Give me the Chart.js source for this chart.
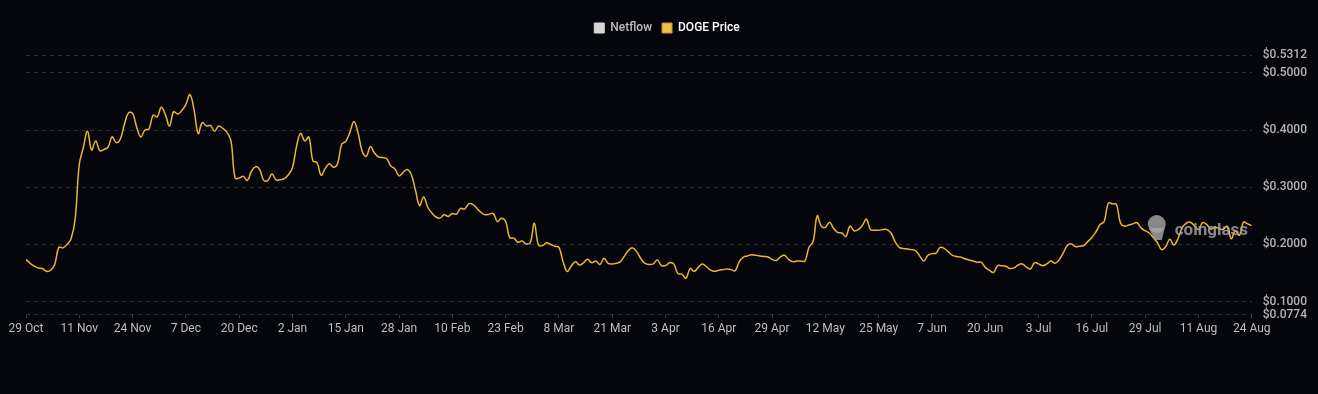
<!DOCTYPE html>
<html>
<head>
<meta charset="utf-8">
<script src="https://cdn.jsdelivr.net/npm/chart.js@4.4.1/dist/chart.umd.min.js"></script>
<style>
html,body{margin:0;padding:0;background:#05060b;}
#wrap{width:1318px;height:394px;position:relative;}
</style>
</head>
<body>
<div id="wrap"><canvas id="c" width="1318" height="394"></canvas></div>
<script>
// X tick labels (every 13th day, 29 Oct → 24 Aug)
const tickLabels = ['29 Oct','11 Nov','24 Nov','7 Dec','20 Dec','2 Jan','15 Jan','28 Jan','10 Feb','23 Feb','8 Mar','21 Mar','3 Apr','16 Apr','29 Apr','12 May','25 May','7 Jun','20 Jun','3 Jul','16 Jul','29 Jul','11 Aug','24 Aug'];
const tickStep = 13;
// Y tick values
const yTicks = [0.0774, 0.1, 0.2, 0.3, 0.4, 0.5, 0.5312];
// Netflow series (no visible values in the reference)
const netflow = [];
// DOGE daily price, 300 days
const dogePrice = [
0.174,0.167,0.162,0.159,0.158,0.153,0.155,0.165,0.195,0.194,
0.200,0.210,0.245,0.340,0.370,0.398,0.365,0.381,0.364,0.366,
0.370,0.388,0.378,0.384,0.410,0.430,0.429,0.405,0.388,0.400,
0.402,0.426,0.423,0.440,0.427,0.407,0.432,0.428,0.434,0.445,
0.462,0.435,0.394,0.413,0.407,0.408,0.398,0.407,0.403,0.396,
0.381,0.316,0.316,0.319,0.312,0.328,0.336,0.331,0.312,0.312,
0.323,0.313,0.313,0.315,0.322,0.334,0.372,0.394,0.381,0.388,
0.346,0.343,0.321,0.333,0.341,0.335,0.341,0.375,0.380,0.396,
0.415,0.395,0.363,0.354,0.371,0.360,0.353,0.352,0.350,0.337,
0.332,0.320,0.326,0.331,0.322,0.295,0.268,0.283,0.265,0.255,
0.248,0.246,0.252,0.249,0.254,0.253,0.263,0.262,0.271,0.270,
0.263,0.256,0.252,0.253,0.254,0.240,0.246,0.240,0.212,0.211,
0.204,0.206,0.201,0.203,0.237,0.199,0.198,0.203,0.200,0.197,
0.195,0.170,0.153,0.162,0.170,0.164,0.168,0.174,0.168,0.171,
0.165,0.176,0.167,0.166,0.167,0.170,0.180,0.190,0.194,0.187,
0.175,0.167,0.165,0.166,0.173,0.163,0.163,0.168,0.166,0.149,
0.148,0.141,0.158,0.153,0.160,0.166,0.161,0.155,0.153,0.155,
0.156,0.157,0.156,0.154,0.170,0.178,0.180,0.182,0.181,0.180,
0.179,0.178,0.174,0.172,0.178,0.181,0.174,0.170,0.171,0.171,
0.171,0.195,0.205,0.250,0.232,0.230,0.239,0.228,0.221,0.220,
0.214,0.232,0.224,0.226,0.233,0.244,0.226,0.225,0.225,0.226,
0.226,0.220,0.205,0.195,0.193,0.192,0.191,0.189,0.180,0.171,
0.181,0.184,0.185,0.195,0.193,0.187,0.181,0.179,0.178,0.175,
0.173,0.171,0.169,0.169,0.160,0.155,0.151,0.163,0.163,0.162,
0.158,0.159,0.164,0.166,0.161,0.157,0.168,0.166,0.163,0.166,
0.171,0.167,0.173,0.185,0.198,0.201,0.196,0.197,0.198,0.205,
0.212,0.222,0.235,0.240,0.272,0.271,0.270,0.237,0.232,0.234,
0.236,0.238,0.229,0.224,0.220,0.212,0.203,0.191,0.196,0.209,
0.199,0.210,0.229,0.237,0.239,0.233,0.226,0.238,0.235,0.227,
0.230,0.228,0.226,0.232,0.210,0.224,0.216,0.239,0.236,0.233
];

const FONT = 'Roboto, "Noto Sans", sans-serif';

const bgPlugin = {
  id: 'bg',
  beforeDraw(chart) {
    const ctx = chart.ctx;
    ctx.save();
    ctx.fillStyle = '#05060b';
    ctx.fillRect(0, 0, chart.width, chart.height);
    ctx.restore();
  }
};

const legendGap = {
  id: 'legendGap',
  beforeInit(chart) {
    const lg = chart.legend;
    const origFit = lg.fit;
    lg.fit = function () {
      origFit.bind(lg)();
      this.height += 11;
    };
    const origDraw = lg.draw;
    lg.draw = function () {
      const ctx = chart.ctx;
      ctx.save();
      ctx.translate(-5, 0);
      origDraw.bind(lg)();
      ctx.restore();
    };
  }
};

const watermark = {
  id: 'watermark',
  afterDatasetsDraw(chart) {
    const ctx = chart.ctx;
    const a = chart.chartArea;
    const lx = a.right - 95, ly = a.top + 172;
    ctx.save();
    ctx.globalAlpha = 0.8;
    ctx.fillStyle = '#a8a8a8';
    ctx.beginPath();
    ctx.ellipse(lx, ly - 3, 9, 9, 0, 0, Math.PI * 2);
    ctx.fill();
    ctx.beginPath();
    ctx.moveTo(lx - 8, ly + 1);
    ctx.lineTo(lx - 2, ly + 13);
    ctx.lineTo(lx + 5, ly + 13);
    ctx.lineTo(lx + 8, ly + 1);
    ctx.fill();
    ctx.font = 'bold 17px ' + FONT;
    ctx.textBaseline = 'middle';
    ctx.textAlign = 'left';
    ctx.fillText('coinglass', a.right - 77, a.top + 176);
    ctx.restore();
  }
};

new Chart(document.getElementById('c'), {
  type: 'line',
  data: {
    datasets: [
      {
        label: 'Netflow',
        data: netflow,
        borderColor: '#d6d6d6',
        backgroundColor: '#d6d6d6',
        yAxisID: 'y2'
      },
      {
        label: 'DOGE Price',
        data: dogePrice.map((v, i) => ({ x: i, y: v })),
        borderColor: '#ecb431',
        backgroundColor: '#f0bf45',
        borderWidth: 1.5,
        pointRadius: 0,
        tension: 0.4,
        yAxisID: 'y'
      }
    ]
  },
  options: {
    responsive: false,
    animation: false,
    layout: { padding: { top: 12, left: 26, right: 0, bottom: 55 } },
    plugins: {
      tooltip: { enabled: false },
      legend: {
        position: 'top',
        align: 'center',
        labels: {
          boxWidth: 10,
          boxHeight: 10,
          padding: 10,
          font: { family: FONT, size: 12, weight: '500' },
          generateLabels(chart) {
            const items = Chart.defaults.plugins.legend.labels.generateLabels(chart);
            items.forEach((it, i) => {
              it.fontColor = i === 0 ? '#bdbdbd' : '#ffffff';
              it.lineWidth = 1;
              it.strokeStyle = i === 0 ? '#d6d6d6' : '#c9962a';
              it.fillStyle = i === 0 ? '#d6d6d6' : '#f0bf45';
            });
            return items;
          }
        }
      }
    },
    scales: {
      x: {
        type: 'linear',
        min: 0,
        max: (tickLabels.length - 1) * tickStep,
        grid: { display: true, drawOnChartArea: false, drawTicks: true, tickLength: 4, color: '#3a3d44' },
        border: { display: false },
        afterBuildTicks(scale) {
          scale.ticks = tickLabels.map((_, i) => ({ value: i * tickStep }));
        },
        ticks: {
          autoSkip: false,
          maxRotation: 0,
          padding: 3,
          color: '#bfbfbf',
          font: { family: FONT, size: 12 },
          callback(v) { return tickLabels[Math.round(v / tickStep)]; }
        }
      },
      y: {
        position: 'right',
        min: 0.0774,
        max: 0.5312,
        afterBuildTicks(scale) {
          scale.ticks = yTicks.map(v => ({ value: v }));
        },
        grid: { color: '#2d3037', drawTicks: false },
        border: { display: false, dash: [4, 4] },
        ticks: {
          padding: 11,
          color: '#b5b5b5',
          font: { family: FONT, size: 12, weight: '500' },
          callback(v) { return '$' + v.toFixed(4); }
        }
      },
      y2: { display: false }
    }
  },
  plugins: [bgPlugin, legendGap, watermark]
});
</script>
</body>
</html>
